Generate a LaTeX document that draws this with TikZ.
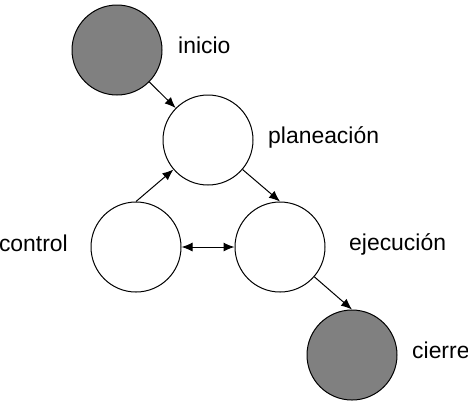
\documentclass[tikz,border=0pt]{standalone}
\usepackage{fontspec}
\setmainfont{Liberation Sans}
\usetikzlibrary{arrows.meta}

\begin{document}
\begin{tikzpicture}[x=1bp, y=-1bp,
    etapa/.style={circle, draw, line width=1bp, fill=white, minimum size=90bp, inner sep=0pt},
    extremo/.style={etapa, fill=gray},
    punta/.tip={Latex[length=11bp, width=9bp]},
    flecha/.style={line width=1bp, -punta},
    rotulo/.style={font=\fontsize{23}{27}\selectfont, inner sep=0pt}]
    \useasboundingbox (0,0) rectangle (468,402);
    \node[extremo] (inicio) at (117,50) {};
    \node[etapa] (plan) at (208,140) {};
    \node[etapa] (control) at (136,247) {};
    \node[etapa] (ejec) at (280,247) {};
    \node[extremo] (cierre) at (352,355) {};
    \draw[flecha] (inicio) -- (plan);
    \draw[flecha] (control.north) -- (plan);
    \draw[flecha] (plan) -- (ejec.north);
    \draw[flecha, punta-punta] (control) -- (ejec);
    \draw[flecha] (ejec) -- (cierre.north);
    \node[rotulo, anchor=base west] (t1) at (178,53) {inicio};
    \node[rotulo, anchor=base west] (t2) at (268,143) {planeación};
    \node[rotulo, anchor=base east] (t3) at (68,251) {control};
    \node[rotulo, anchor=base west] (t4) at (349,250) {ejecución};
    \node[rotulo, anchor=base west] (t5) at (412,358) {cierre};
\end{tikzpicture}
\end{document}
